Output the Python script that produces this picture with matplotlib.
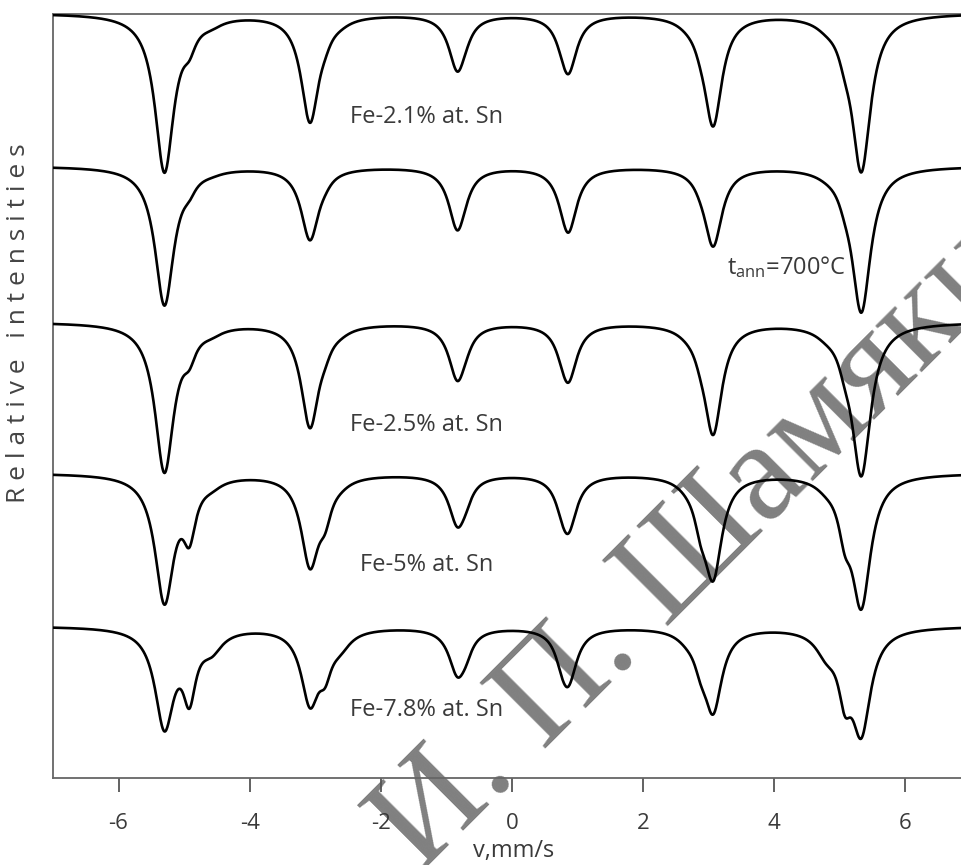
import numpy as np
import matplotlib
matplotlib.use("Agg")
import matplotlib.pyplot as plt

plt.rcParams['font.family'] = ['Open Sans', 'DejaVu Sans']
plt.rcParams['axes.unicode_minus'] = False

# Положения линий секстетов (мм/с)
main_pos = [-5.30, -3.08, -0.83, 0.86, 3.07, 5.33]
sat1_pos = [-4.92, -2.85, -0.70, 0.76, 2.88, 5.08]
sat2_pos = [-4.58, -2.62, -0.58, 0.68, 2.68, 4.80]
main_hw = [0.175, 0.165, 0.16, 0.16, 0.165, 0.175]
sat1_hw = 0.12
sat2_hw = 0.20

# Глубины линий для каждого образца (сверху вниз)
main_21 = [1.57, 1.06, 0.55, 0.57, 1.09, 1.55]
sat1_21 = [0.18, 0.08, 0.04, 0.04, 0.08, 0.16]
sat2_21 = [0.05, 0.03, 0.0, 0.0, 0.03, 0.05]

main_21a = [1.38, 0.72, 0.62, 0.64, 0.78, 1.44]
sat1_21a = [0.10, 0.04, 0.02, 0.02, 0.04, 0.10]
sat2_21a = [0.02, 0.0, 0.0, 0.0, 0.0, 0.02]

main_25 = [1.48, 1.02, 0.55, 0.56, 1.08, 1.50]
sat1_25 = [0.20, 0.10, 0.05, 0.05, 0.10, 0.16]
sat2_25 = [0.05, 0.03, 0.0, 0.0, 0.03, 0.05]

main_5 = [1.26, 0.88, 0.48, 0.53, 0.98, 1.28]
sat1_5 = [0.50, 0.28, 0.10, 0.10, 0.28, 0.38]
sat2_5 = [0.06, 0.04, 0.0, 0.0, 0.04, 0.06]

main_78 = [0.98, 0.72, 0.44, 0.52, 0.80, 1.00]
sat1_78 = [0.60, 0.30, 0.12, 0.12, 0.20, 0.50]
sat2_78 = [0.18, 0.14, 0.0, 0.0, 0.06, 0.20]

offsets = [7.65, 6.12, 4.56, 3.05, 1.52]
labels = ['Fe-2.1% at. Sn', None, 'Fe-2.5% at. Sn', 'Fe-5% at. Sn', 'Fe-7.8% at. Sn']
label_x = [-2.47, None, -2.47, -2.32, -2.47]
label_y = [6.61, None, 3.53, 2.13, 0.68]

v = np.linspace(-7, 7, 2000)


def lorentz(pos, depth, hw):
    return depth * hw**2 / ((v - pos)**2 + hw**2)


def spectrum(main, sat1, sat2):
    y = np.zeros_like(v)
    for i in range(6):
        y -= lorentz(main_pos[i], main[i], main_hw[i])
        y -= lorentz(sat1_pos[i], sat1[i], sat1_hw)
        y -= lorentz(sat2_pos[i], sat2[i], sat2_hw)
    return y


samples = [(main_21, sat1_21, sat2_21), (main_21a, sat1_21a, sat2_21a),
           (main_25, sat1_25, sat2_25), (main_5, sat1_5, sat2_5),
           (main_78, sat1_78, sat2_78)]

fig = plt.figure(figsize=(9.62, 8.65), dpi=100)
ax = fig.add_axes([0.0551, 0.1006, 0.954, 0.8832])

for (m, s1, s2), off in zip(samples, offsets):
    ax.plot(v, spectrum(m, s1, s2) + off, color='black', lw=1.9, zorder=3)

for txt, x, y in zip(labels, label_x, label_y):
    if txt:
        ax.text(x, y, txt, fontsize=17, color='#3a3a3a', va='center', ha='left')
ax.text(3.28, 5.11, r'$\mathregular{t_{ann}}$=700°C', fontsize=17, color='#3a3a3a',
        va='center', ha='left')

ax.set_xlim(-7, 7)
ax.set_ylim(0, 7.64)
ax.set_xticks([-6, -4, -2, 0, 2, 4, 6])
ax.set_yticks([])
ax.tick_params(axis='x', direction='out', length=10, width=1.3, color='#555555',
               labelsize=16, labelcolor='#3a3a3a', pad=15)
for sp in ax.spines.values():
    sp.set_color('#666666')
    sp.set_linewidth(1.3)

fig.text(0.019, 0.626, 'R e l a t i v e   i n t e n s i t i e s', rotation=90,
         fontsize=19, color='#444444', ha='center', va='center')
fig.text(0.534, 0.016, 'v,mm/s', fontsize=17, color='#3a3a3a', ha='center', va='center')

# водяной знак
ax.text(0.437, -0.010, 'И. П. Шамякина', transform=fig.transFigure, rotation=45,
        rotation_mode='anchor', ha='left', va='baseline', fontsize=102,
        family='Liberation Serif', color='#808080', zorder=1, clip_on=False)

fig.savefig('out.png', dpi=100)
